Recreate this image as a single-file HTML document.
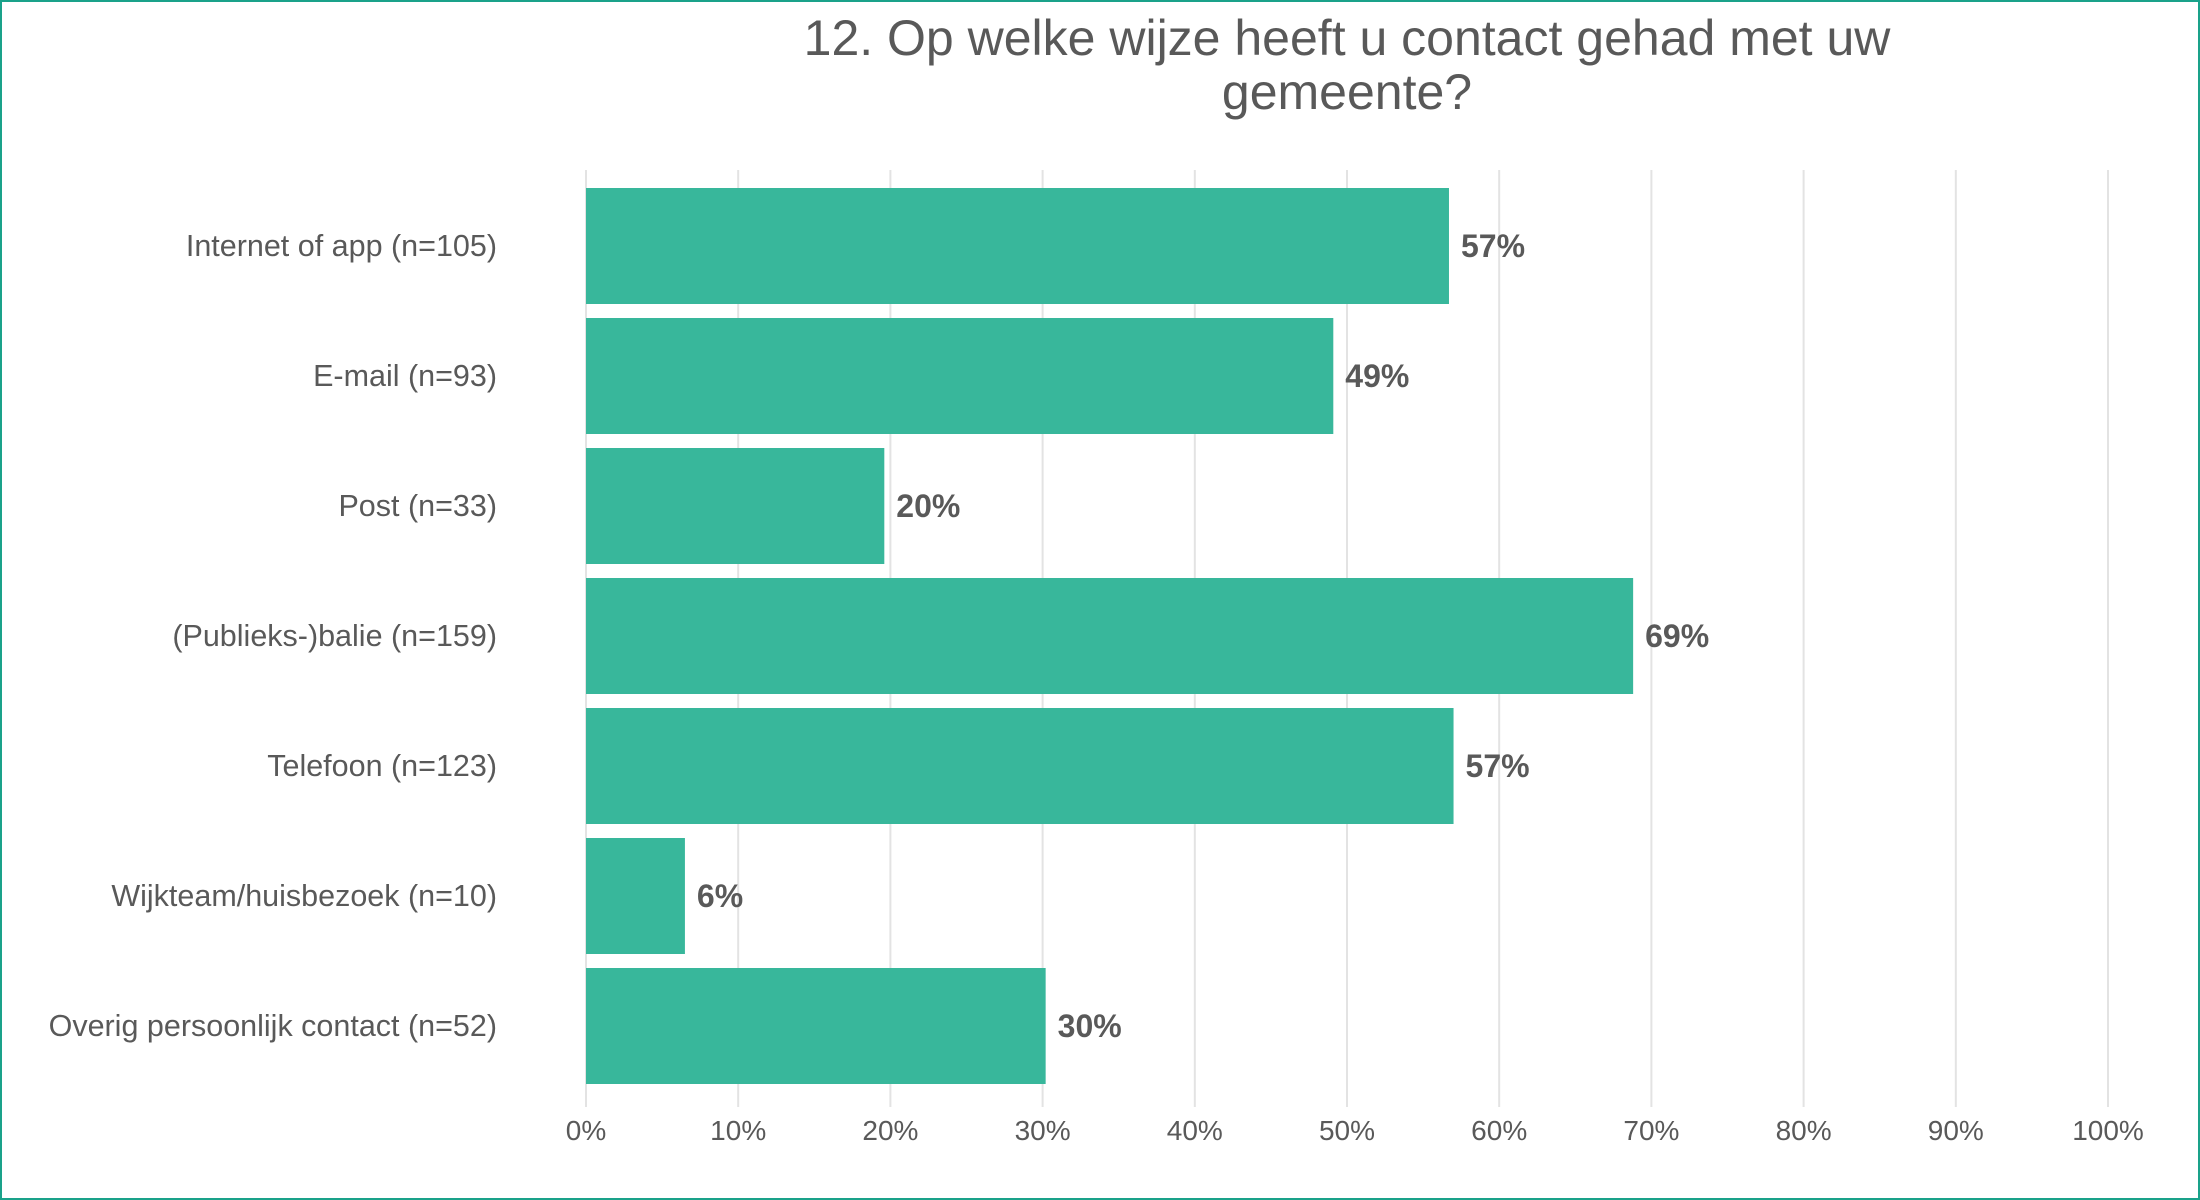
<!DOCTYPE html>
<html><head><meta charset="utf-8">
<style>
html,body{margin:0;padding:0;background:#fff;}
#wrap{width:2200px;height:1200px;position:relative;box-sizing:border-box;border:2px solid #1aa28a;overflow:hidden;}
svg{position:absolute;left:0;top:0;}
text{font-family:"Liberation Sans",Arial,sans-serif;fill:#595959;}
</style></head>
<body>
<div id="wrap">
<svg id="chart" width="2200" height="1200">
<text x="1345" y="53" font-size="50" text-anchor="middle">12. Op welke wijze heeft u contact gehad met uw</text>
<text x="1345" y="107" font-size="50" text-anchor="middle">gemeente?</text>
</svg>
</div>
<script>
const categories=["Internet of app (n=105)","E-mail (n=93)","Post (n=33)","(Publieks-)balie (n=159)","Telefoon (n=123)","Wijkteam/huisbezoek (n=10)","Overig persoonlijk contact (n=52)"];
const values=[56.7,49.1,19.6,68.8,57.0,6.5,30.2];
const valueLabels=["57%","49%","20%","69%","57%","6%","30%"];
const ticks=[0,10,20,30,40,50,60,70,80,90,100];
const tickLabels=["0%","10%","20%","30%","40%","50%","60%","70%","80%","90%","100%"];

const svg=document.getElementById('chart');
const NS='http://www.w3.org/2000/svg';
const x0=584,x1=2106,bandTop=179,bandH=130;
const xs=v=>x0+(x1-x0)*v/100;
const ys=i=>bandTop+i*bandH;
function mk(t,a){const e=document.createElementNS(NS,t);for(const k in a)e.setAttribute(k,a[k]);svg.appendChild(e);return e;}
ticks.forEach((t,i)=>{
  const g=mk('line',{x1:xs(t),x2:xs(t),y1:168,y2:1105,stroke:'#e3e3e3','stroke-width':2});
  
  
  const l=mk('text',{x:xs(t),y:1138,'font-size':28,'text-anchor':'middle'});
  l.textContent=tickLabels[i];
  
  
});
categories.forEach((c,i)=>{
  const y=ys(i)+7,h=116;
  const r=mk('rect',{x:xs(0),y:y,width:xs(values[i])-xs(0),height:h,fill:'#38b79b'});
  
  
  const cl=mk('text',{x:495,y:y+h/2+10,'font-size':30.5,'text-anchor':'end'});
  cl.textContent=c;
  
  
  const vl=mk('text',{x:xs(values[i])+12,y:y+h/2+11,'font-size':32,'font-weight':'bold'});
  vl.textContent=valueLabels[i];
  
  
});
</script>
</body></html>
